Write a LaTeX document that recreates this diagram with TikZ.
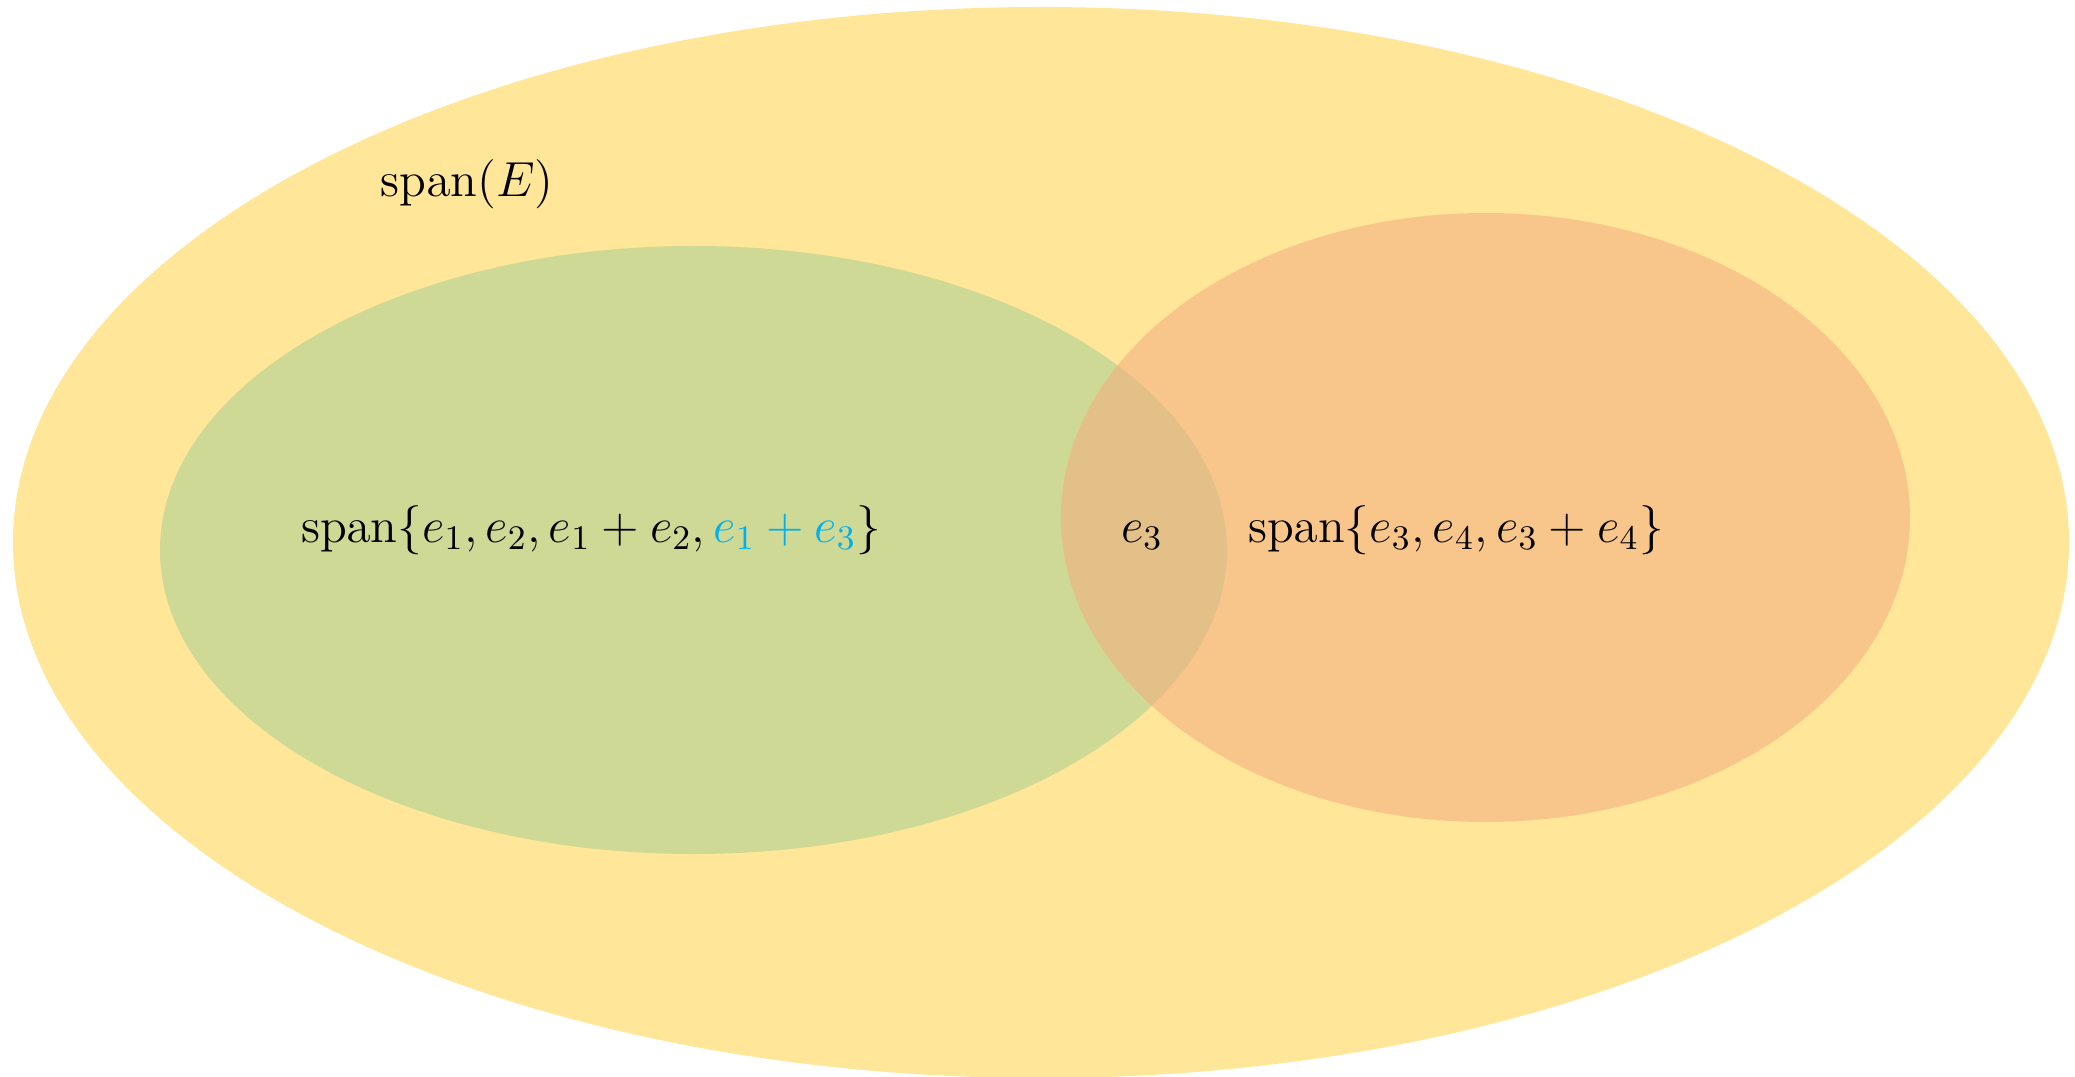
\documentclass[tikz,border=0pt]{standalone}
\usepackage{fix-cm}
\usepackage{amsmath}
\definecolor{spanyellow}{HTML}{FFE699}
\definecolor{spangreen}{HTML}{CDD994}
\definecolor{spanorange}{HTML}{F8C68A}
\definecolor{spanboth}{HTML}{E3C088}
\definecolor{hiblue}{HTML}{00B0F0}
\begin{document}
\begin{tikzpicture}[
    lbl/.style={anchor=base, inner sep=0pt, font=\fontsize{14}{17}\selectfont},
]
\useasboundingbox (0,0) rectangle (20.75,-10.77);
% sets
\fill[spanyellow] (10.41,-5.425) ellipse [x radius=10.28, y radius=5.355];
\fill[spangreen]  (6.935,-5.50) ellipse [x radius=5.335, y radius=3.04];
\fill[spanorange] (14.855,-5.175) ellipse [x radius=4.245, y radius=3.045];
\begin{scope}
  \clip (6.935,-5.50) ellipse [x radius=5.335, y radius=3.04];
  \fill[spanboth] (14.855,-5.175) ellipse [x radius=4.245, y radius=3.045];
\end{scope}

\node[lbl] (spanE)  at (4.67,-1.97)  {$\operatorname{span}(E)$};
\node[lbl] (left)   at (5.91,-5.42)  {$\operatorname{span}\{e_1, e_2, e_1 + e_2, \textcolor{hiblue}{e_1 + e_3}\}$};
\node[lbl] (common) at (11.42,-5.42) {$e_3$};
\node[lbl] (right)  at (14.56,-5.42) {$\operatorname{span}\{e_3, e_4, e_3 + e_4\}$};
\end{tikzpicture}
\end{document}
